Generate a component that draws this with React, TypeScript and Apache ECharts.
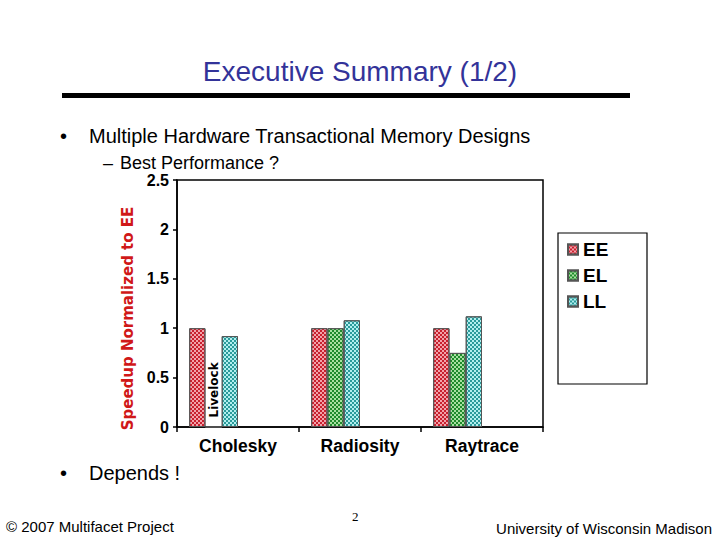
import React, { useEffect, useRef } from "react";
import * as echarts from "echarts";

const categories = ["Cholesky", "Radiosity", "Raytrace"];
const seriesNames = ["EE", "EL", "LL"];
const eeValues = [1.0, 1.0, 1.0];
const elValues = [0, 1.0, 0.75];
const llValues = [0.92, 1.08, 1.12];
const yTicks = { min: 0, max: 2.5, interval: 0.5 };

const FONT = "Liberation Sans, Arial, sans-serif";
const WIDE = "DejaVu Sans, Verdana, sans-serif";

function decal(color: string) {
  return {
    symbol: "rect",
    symbolSize: 1,
    color,
    dashArrayX: [[2, 2], [0, 2, 2, 0]],
    dashArrayY: [2, 0],
  };
}

export default function App() {
  const ref = useRef<HTMLDivElement>(null);
  useEffect(() => {
    document.body.style.margin = "0";
    const chart = echarts.init(ref.current!, undefined, { renderer: "svg" });
    const barCommon = {
      type: "bar",
      barGap: "0%",
      barCategoryGap: "20%",
    };
    const elData = elValues.map((v, i) =>
      i === 0
        ? {
            value: v,
            label: {
              show: true,
              position: ["50%", -9],
              rotate: 90,
              align: "left",
              verticalAlign: "middle",
              formatter: "Livelock",
              color: "#000",
              fontFamily: WIDE,
              fontWeight: "bold",
              fontSize: 12,
            },
          }
        : v
    );
    chart.setOption({
      animation: false,
      backgroundColor: "#fff",
      grid: {
        left: 177,
        right: 177,
        top: 180,
        bottom: 113,
        show: true,
        borderColor: "#000",
        borderWidth: 1.5,
        containLabel: false,
      },
      legend: {
        data: seriesNames,
        orient: "vertical",
        left: 562,
        top: 235,
        icon: "rect",
        itemWidth: 10,
        itemHeight: 10,
        itemGap: 7,
        textStyle: {
          fontFamily: FONT,
          fontWeight: "bold",
          fontSize: 19,
          color: "#000",
          lineHeight: 19,
        },
      },
      xAxis: {
        type: "category",
        data: categories,
        axisLine: { lineStyle: { color: "#000", width: 1.5 } },
        axisTick: { show: true, length: 5, lineStyle: { color: "#000", width: 1.5 } },
        axisLabel: {
          margin: 10,
          color: "#000",
          fontFamily: FONT,
          fontWeight: "bold",
          fontSize: 17.5,
        },
      },
      yAxis: {
        type: "value",
        min: yTicks.min,
        max: yTicks.max,
        interval: yTicks.interval,
        name: "Speedup Normalized to EE",
        nameLocation: "middle",
        nameRotate: 90,
        nameGap: 39,
        nameTextStyle: {
          color: "#d01818",
          fontFamily: WIDE,
          fontWeight: "bold",
          fontSize: 15,
          padding: [0, 30, 0, 0],
        },
        splitLine: { show: false },
        axisLine: { show: true, lineStyle: { color: "#000", width: 1.5 } },
        axisTick: { show: true, length: 4, lineStyle: { color: "#000", width: 1.5 } },
        axisLabel: {
          margin: 8,
          color: "#000",
          fontFamily: FONT,
          fontWeight: "bold",
          fontSize: 16,
        },
      },
      series: [
        {
          ...barCommon,
          name: "EE",
          data: eeValues,
          itemStyle: { color: "#f2a2aa", borderColor: "#555", borderWidth: 1, decal: decal("#c8202e") },
        },
        {
          ...barCommon,
          name: "EL",
          data: elData,
          itemStyle: { color: "#a8e0a0", borderColor: "#555", borderWidth: 1, decal: decal("#1f8a2c") },
        },
        {
          ...barCommon,
          name: "LL",
          data: llValues,
          itemStyle: { color: "#b2eeee", borderColor: "#555", borderWidth: 1, decal: decal("#2a9a9a") },
        },
        { ...barCommon, name: "p1", data: categories.map(() => "-") },
        { ...barCommon, name: "p2", data: categories.map(() => "-") },
        { ...barCommon, name: "p3", data: categories.map(() => "-") },
      ],
      graphic: [
        {
          type: "text",
          x: 360,
          y: 71,
          style: {
            text: "Executive Summary (1/2)",
            fill: "#333399",
            font: `28px ${FONT}`,
            align: "center",
            verticalAlign: "middle",
          },
        },
        { type: "rect", shape: { x: 62, y: 93, width: 568, height: 5 }, style: { fill: "#000" } },
        {
          type: "text",
          x: 60,
          y: 136,
          style: { text: "•", fill: "#000", font: `20px ${FONT}`, verticalAlign: "middle" },
        },
        {
          type: "text",
          x: 89,
          y: 136,
          style: {
            text: "Multiple Hardware Transactional Memory Designs",
            fill: "#000",
            font: `20px ${FONT}`,
            verticalAlign: "middle",
          },
        },
        {
          type: "text",
          x: 103,
          y: 163,
          style: { text: "–", fill: "#000", font: `18px ${FONT}`, verticalAlign: "middle" },
        },
        {
          type: "text",
          x: 120,
          y: 163,
          style: { text: "Best Performance ?", fill: "#000", font: `18px ${FONT}`, verticalAlign: "middle" },
        },
        {
          type: "text",
          x: 60,
          y: 473,
          style: { text: "•", fill: "#000", font: `20px ${FONT}`, verticalAlign: "middle" },
        },
        {
          type: "text",
          x: 89,
          y: 473,
          style: { text: "Depends !", fill: "#000", font: `20px ${FONT}`, verticalAlign: "middle" },
        },
        {
          type: "rect",
          shape: { x: 558, y: 233, width: 89, height: 151 },
          style: { fill: "none", stroke: "#000", lineWidth: 1.2 },
        },
        {
          type: "text",
          x: 6,
          y: 526,
          style: { text: "© 2007 Multifacet Project", fill: "#000", font: `15px ${FONT}`, verticalAlign: "middle" },
        },
        {
          type: "text",
          x: 352,
          y: 516,
          style: { text: "2", fill: "#000", font: `13px "Liberation Serif", serif`, verticalAlign: "middle" },
        },
        {
          type: "text",
          x: 712,
          y: 528,
          style: {
            text: "University of Wisconsin Madison",
            fill: "#000",
            font: `15px ${FONT}`,
            align: "right",
            verticalAlign: "middle",
          },
        },
      ],
    });
    return () => chart.dispose();
  }, []);
  return <div ref={ref} style={{ width: 720, height: 540 }} />;
}
